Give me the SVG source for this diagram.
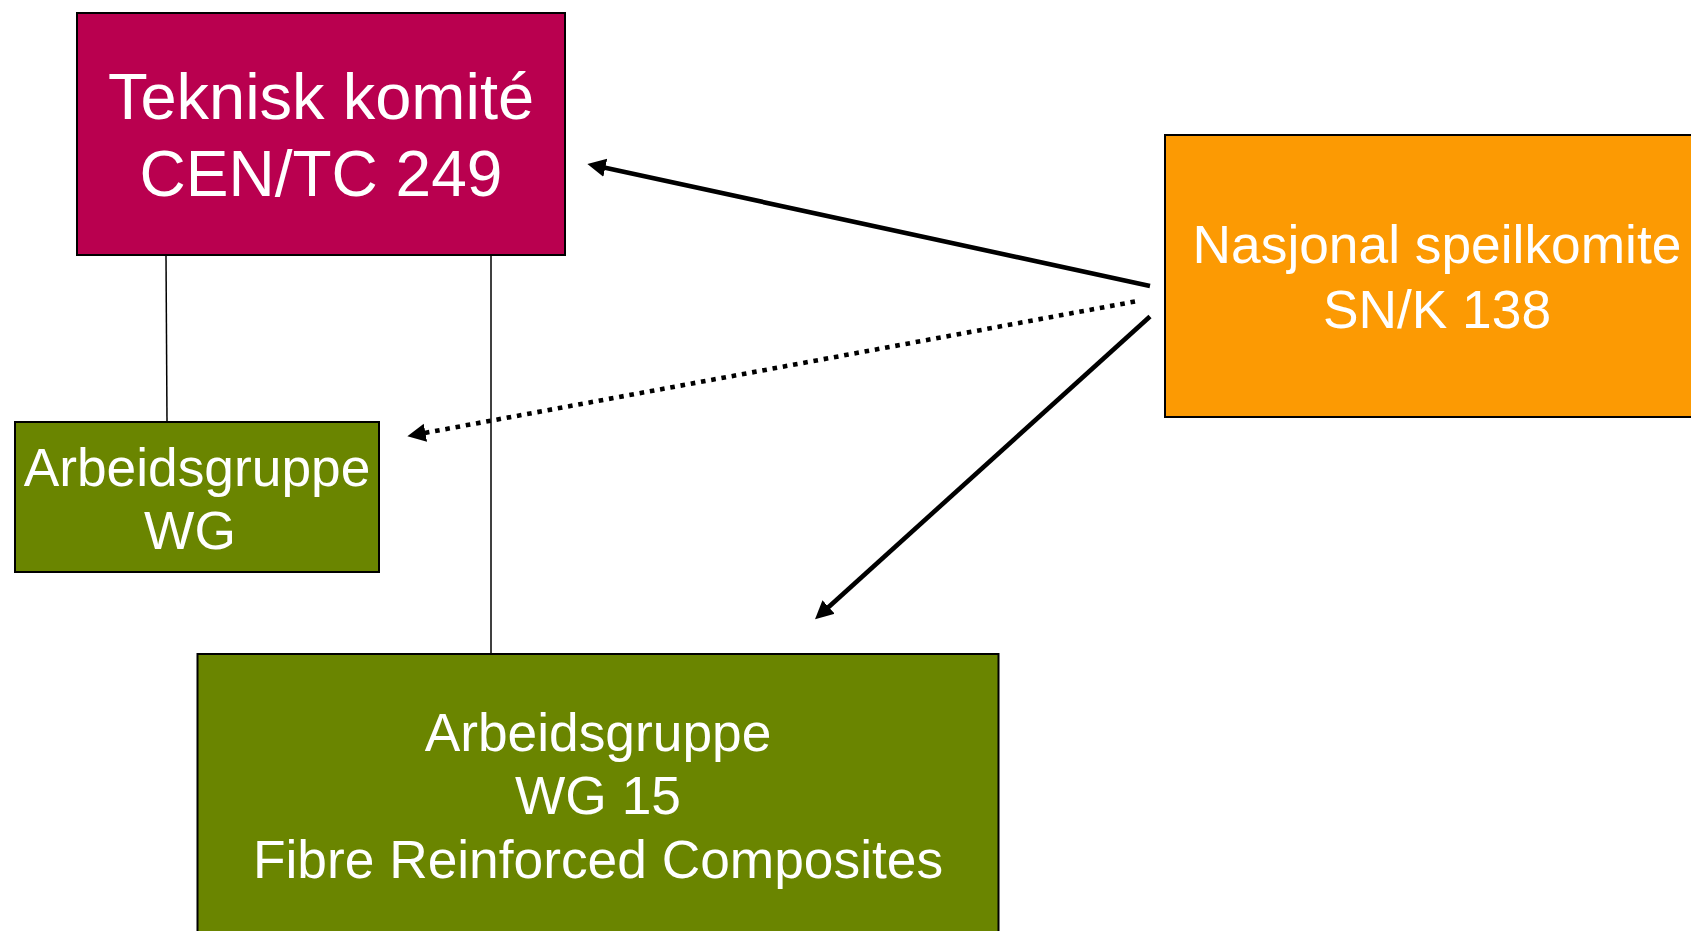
<svg xmlns="http://www.w3.org/2000/svg" width="1691" height="931" viewBox="0 0 1691 931">
<style>
.box{stroke:#000;stroke-width:2}
.lbl{font-family:"Liberation Sans",Arial,sans-serif;fill:#fff;text-anchor:middle}
.thin{stroke:#000;stroke-width:1.5;fill:none}
.arr{stroke:#000;stroke-width:4.6;fill:none}
</style>
<defs>
<marker id="ah" markerUnits="userSpaceOnUse" markerWidth="22" markerHeight="22" viewBox="0 -9 18 18" refX="3" refY="0" orient="auto">
<path d="M0,-7.5 L15,0 L0,7.5 Z" fill="#000"/>
</marker>
</defs>
<rect width="1691" height="931" fill="#fff"/>
<g id="connectors">
<line class="thin" x1="166" y1="255" x2="167" y2="422"/>
<line class="thin" x1="491" y1="255" x2="491" y2="654"/>
<line class="arr" x1="1150" y1="286" x2="601.7" y2="167" marker-end="url(#ah)"/>
<line class="arr" x1="1135" y1="301.5" x2="421.8" y2="433.5" stroke-dasharray="4.6 5.8" marker-end="url(#ah)"/>
<line class="arr" x1="1150" y1="316.5" x2="825.9" y2="609.5" marker-end="url(#ah)"/>
</g>
<g id="tc249">
<rect class="box" x="77" y="13" width="488" height="242" fill="#B9004F"/>
<text class="lbl" x="321" y="119" font-size="65">Teknisk komité</text>
<text class="lbl" x="321" y="196" font-size="64">CEN/TC 249</text>
</g>
<g id="snk138">
<rect class="box" x="1165" y="135" width="545" height="282" fill="#FC9A03"/>
<text class="lbl" x="1437" y="263" font-size="53.3">Nasjonal speilkomite</text>
<text class="lbl" x="1437" y="328" font-size="53.3">SN/K 138</text>
</g>
<g id="wg">
<rect class="box" x="15" y="422" width="364" height="150" fill="#6A8500"/>
<text class="lbl" x="197" y="486" font-size="53.3">Arbeidsgruppe</text>
<text class="lbl" x="190" y="549" font-size="53.3">WG</text>
</g>
<g id="wg15">
<rect class="box" x="197.5" y="654" width="801" height="300" fill="#6A8500"/>
<text class="lbl" x="598" y="751" font-size="53.3">Arbeidsgruppe</text>
<text class="lbl" x="598" y="814" font-size="53.3">WG 15</text>
<text class="lbl" x="598" y="878" font-size="53.3">Fibre Reinforced Composites</text>
</g>
</svg>
